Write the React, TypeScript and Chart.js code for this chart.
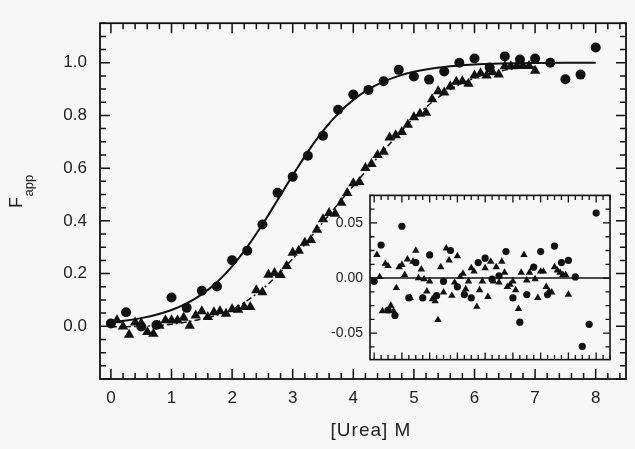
import React, { useEffect, useRef } from 'react';
import { Chart, registerables } from 'chart.js';

Chart.register(...registerables);

// ---------------- data ----------------
const circleX = [0, 0.25, 0.5, 0.75, 1, 1.25, 1.5, 1.75, 2, 2.25, 2.5, 2.75, 3, 3.25, 3.5, 3.75, 4, 4.25, 4.5, 4.75, 5, 5.25, 5.5, 5.75, 6, 6.25, 6.5, 6.75, 7, 7.25, 7.5, 7.75, 8];
const circleF = [0.011, 0.053, -0.001, 0.005, 0.109, 0.07, 0.135, 0.151, 0.251, 0.287, 0.386, 0.507, 0.567, 0.647, 0.723, 0.822, 0.879, 0.897, 0.93, 0.973, 0.948, 0.936, 0.967, 1.0, 1.016, 0.982, 1.024, 1.012, 1.016, 1.0, 0.937, 0.955, 1.058];

const triangleX = [0.1, 0.2, 0.3, 0.4, 0.5, 0.6, 0.7, 0.8, 0.9, 1.0,
  1.1, 1.2, 1.3, 1.4, 1.5, 1.6, 1.7, 1.8, 1.9, 2.0,
  2.1, 2.2, 2.3, 2.4, 2.5, 2.6, 2.7, 2.8, 2.9, 3.0,
  3.1, 3.2, 3.3, 3.4, 3.5, 3.6, 3.7, 3.8, 3.9, 4.0,
  4.1, 4.2, 4.3, 4.4, 4.5, 4.6, 4.7, 4.8, 4.9, 5.0,
  5.1, 5.2, 5.3, 5.4, 5.5, 5.6, 5.7, 5.8, 5.9, 6.0,
  6.1, 6.2, 6.3, 6.4, 6.5, 6.6, 6.7, 6.8, 6.9, 7.0];
const triangleF = [0.023, -0.001, -0.032, 0.014, 0.012, -0.022, -0.028, 0.002, 0.023, 0.023,
  0.023, 0.032, 0.002, 0.041, 0.057, 0.035, 0.053, 0.057, 0.048, 0.065,
  0.063, 0.073, 0.073, 0.137, 0.129, 0.196, 0.202, 0.195, 0.229, 0.279,
  0.287, 0.317, 0.327, 0.366, 0.406, 0.43, 0.427, 0.469, 0.506, 0.543,
  0.547, 0.601, 0.616, 0.65, 0.662, 0.716, 0.725, 0.737, 0.765, 0.793,
  0.806, 0.81, 0.861, 0.892, 0.887, 0.91, 0.928, 0.93, 0.92, 0.952,
  0.96, 0.952, 0.964, 0.955, 0.987, 0.987, 0.988, 0.988, 0.988, 0.97];

const circleFitX = [0, 0.25, 0.5, 0.75, 1, 1.25, 1.5, 1.75, 2, 2.25, 2.5, 2.75, 3, 3.25, 3.5, 3.75, 4, 4.25, 4.5, 4.75, 5, 5.5, 6, 6.5, 7, 7.5, 8];
const circleFitF = [0.016, 0.022, 0.031, 0.044, 0.062, 0.087, 0.121, 0.167, 0.227, 0.301, 0.386, 0.479, 0.573, 0.662, 0.741, 0.807, 0.859, 0.899, 0.928, 0.95, 0.966, 0.984, 0.993, 0.997, 0.999, 1.0, 1.0];

const triangleFitX = [0, 0.5, 1, 1.5, 2, 2.5, 3, 3.5, 4, 4.5, 5, 5.5, 6, 6.5, 7];
const triangleFitF = [-0.002, 0.0, 0.008, 0.028, 0.064, 0.141, 0.256, 0.395, 0.533, 0.666, 0.79, 0.884, 0.942, 0.972, 0.985];

const circleResidual = [-0.003, 0.03, -0.029, -0.034, 0.047, -0.018, 0.014, -0.018, 0.021, -0.016, -0.003, 0.025, -0.008, -0.015, -0.018, 0.014, 0.018, -0.001, 0.002, 0.024, -0.018, -0.04, -0.015, 0.01, 0.024, -0.015, 0.029, 0.014, 0.016, 0.001, -0.062, -0.042, 0.059];
const triangleResidual = [0.021, 0.001, -0.03, 0.013, 0.011, -0.025, -0.03, -0.009, 0.01, 0.012,
  0.003, 0.017, -0.018, 0.015, 0.025, 0.0, 0.008, -0.001, -0.012, -0.003,
  -0.019, -0.021, -0.038, 0.01, -0.013, 0.027, 0.016, -0.016, -0.004, 0.02,
  0.001, 0.004, -0.01, -0.003, 0.009, 0.006, -0.026, -0.011, -0.003, 0.009,
  -0.017, 0.015, -0.003, 0.01, -0.004, 0.015, 0.005, -0.008, -0.006, -0.003,
  -0.011, -0.028, 0.005, 0.021, -0.002, 0.005, 0.009, -0.001, -0.018, 0.006,
  0.006, -0.008, -0.012, -0.013, 0.01, 0.007, 0.005, 0.003, 0.003, -0.015];

const xTickValues = [0, 1, 2, 3, 4, 5, 6, 7, 8];
const yTickValues = [0, 0.2, 0.4, 0.6, 0.8, 1.0];
const insetYTickValues = [-0.05, 0, 0.05];

const xTitle = '[Urea] M';
const yTitleMain = 'F';
const yTitleSub = 'app';

// ---------------- styling ----------------
const FONT = '"Liberation Sans", Arial, Helvetica, sans-serif';
const BG = '#f7f7f7';
const INK = '#111';
const TEXT = '#222';

const pts = (xs: number[], ys: number[]) => xs.map((x, i) => ({ x, y: ys[i] }));

function drawInwardTicks(ctx: CanvasRenderingContext2D, scale: any, area: any, minorStep: number, majorStep: number, majorLen: number, minorLen: number, horizontal: boolean) {
  const start = Math.ceil((scale.min - 1e-9) / minorStep);
  const end = Math.floor((scale.max + 1e-9) / minorStep);
  const ratio = Math.round(majorStep / minorStep);
  for (let i = start; i <= end; i++) {
    const p = scale.getPixelForValue(i * minorStep);
    const len = i % ratio === 0 ? majorLen : minorLen;
    ctx.beginPath();
    if (horizontal) {
      ctx.moveTo(p, area.bottom); ctx.lineTo(p, area.bottom - len);
      ctx.moveTo(p, area.top); ctx.lineTo(p, area.top + len);
    } else {
      ctx.moveTo(area.left, p); ctx.lineTo(area.left + len, p);
      ctx.moveTo(area.right, p); ctx.lineTo(area.right - len, p);
    }
    ctx.stroke();
  }
}

const mainPlugin = {
  id: 'mainFrame',
  beforeDraw(chart: any) {
    const { ctx, width, height } = chart;
    ctx.save();
    ctx.fillStyle = BG;
    ctx.fillRect(0, 0, width, height);
    ctx.restore();
  },
  afterDraw(chart: any) {
    const { ctx, chartArea: a, scales } = chart;
    ctx.save();
    ctx.strokeStyle = INK;
    ctx.lineWidth = 1.5;
    drawInwardTicks(ctx, scales.x, a, 0.2, 1, 10, 6, true);
    drawInwardTicks(ctx, scales.y, a, 0.05, 0.2, 10, 6, false);
    ctx.lineWidth = 1.8;
    ctx.strokeRect(a.left, a.top, a.right - a.left, a.bottom - a.top);

    // axis titles
    ctx.fillStyle = TEXT;
    ctx.font = `19px ${FONT}`;
    (ctx as any).letterSpacing = '1px';
    ctx.textAlign = 'center';
    ctx.textBaseline = 'middle';
    ctx.fillText(xTitle, (a.left + a.right) / 2 + 8, 431);
    (ctx as any).letterSpacing = '0px';

    ctx.translate(22, 208);
    ctx.rotate(-Math.PI / 2);
    ctx.textAlign = 'left';
    ctx.textBaseline = 'alphabetic';
    ctx.font = `18px ${FONT}`;
    ctx.fillText(yTitleMain, 0, 0);
    const w = ctx.measureText(yTitleMain).width;
    ctx.font = `13px ${FONT}`;
    ctx.fillText(yTitleSub, w + 0.5, 11);
    ctx.restore();
  },
};

const insetPlugin = {
  id: 'insetFrame',
  beforeDatasetsDraw(chart: any) {
    const { ctx, chartArea: a, scales } = chart;
    ctx.save();
    ctx.fillStyle = BG;
    ctx.fillRect(a.left, a.top, a.right - a.left, a.bottom - a.top);
    const y0 = scales.y.getPixelForValue(0);
    ctx.strokeStyle = INK;
    ctx.lineWidth = 1.6;
    ctx.beginPath();
    ctx.moveTo(a.left, y0);
    ctx.lineTo(a.right, y0);
    ctx.stroke();
    ctx.restore();
  },
  afterDraw(chart: any) {
    const { ctx, chartArea: a, scales } = chart;
    ctx.save();
    ctx.strokeStyle = INK;
    ctx.lineWidth = 1.3;
    drawInwardTicks(ctx, scales.x, a, 0.25, 1, 7, 4.5, true);
    drawInwardTicks(ctx, scales.y, a, 0.0125, 0.05, 7, 4.5, false);
    ctx.lineWidth = 1.6;
    ctx.strokeRect(a.left, a.top, a.right - a.left, a.bottom - a.top);
    ctx.restore();
  },
};

export default function App() {
  const mainRef = useRef<HTMLCanvasElement>(null);
  const insetRef = useRef<HTMLCanvasElement>(null);

  useEffect(() => {
    const main = new Chart(mainRef.current as HTMLCanvasElement, {
      type: 'scatter',
      data: {
        datasets: [
          {
            label: 'circles', data: pts(circleX, circleF), order: 0,
            pointStyle: 'circle', pointRadius: 5, pointBackgroundColor: INK, pointBorderWidth: 0,
          },
          {
            label: 'triangles', data: pts(triangleX, triangleF), order: 0,
            pointStyle: 'triangle', pointRadius: 6, pointBackgroundColor: INK, pointBorderWidth: 0,
          },
          {
            label: 'circle fit', data: pts(circleFitX, circleFitF), order: 2, showLine: true,
            pointRadius: 0, borderColor: INK, borderWidth: 2, cubicInterpolationMode: 'monotone',
          },
          {
            label: 'triangle fit', data: pts(triangleFitX, triangleFitF), order: 2, showLine: true,
            pointRadius: 0, borderColor: INK, borderWidth: 1.5, borderDash: [6, 3, 2, 3], cubicInterpolationMode: 'monotone',
          },
        ] as any,
      },
      options: {
        animation: false,
        responsive: false,
        devicePixelRatio: 1,
        layout: { padding: { left: 0, top: 7, right: 9, bottom: 0 } },
        plugins: { legend: { display: false }, tooltip: { enabled: false } },
        scales: {
          x: {
            type: 'linear', min: -0.18, max: 8.5,
            grid: { display: false, drawTicks: false }, border: { display: false },
            afterBuildTicks: (s: any) => { s.ticks = xTickValues.map((v) => ({ value: v })); },
            afterFit: (s: any) => { s.height = 70; },
            ticks: { padding: 9, color: TEXT, font: { family: FONT, size: 17 }, autoSkip: false, maxRotation: 0, callback: (v: any) => String(v) },
          },
          y: {
            type: 'linear', min: -0.2, max: 1.15,
            grid: { display: false, drawTicks: false }, border: { display: false },
            afterBuildTicks: (s: any) => { s.ticks = yTickValues.map((v) => ({ value: v })); },
            afterFit: (s: any) => { s.width = 100; },
            ticks: { padding: 13, color: TEXT, font: { family: FONT, size: 17 }, autoSkip: false, callback: (v: any) => Number(v).toFixed(1) },
          },
        },
      } as any,
      plugins: [mainPlugin],
    });

    const inset = new Chart(insetRef.current as HTMLCanvasElement, {
      type: 'scatter',
      data: {
        datasets: [
          {
            label: 'circle residuals', data: pts(circleX, circleResidual),
            pointStyle: 'circle', pointRadius: 3.6, pointBackgroundColor: INK, pointBorderWidth: 0,
          },
          {
            label: 'triangle residuals', data: pts(triangleX, triangleResidual),
            pointStyle: 'triangle', pointRadius: 4.3, pointBackgroundColor: INK, pointBorderWidth: 0,
          },
        ] as any,
      },
      options: {
        animation: false,
        responsive: false,
        devicePixelRatio: 1,
        layout: { padding: { left: 0, top: 9, right: 10, bottom: 12 } },
        plugins: { legend: { display: false }, tooltip: { enabled: false } },
        scales: {
          x: { type: 'linear', min: -0.15, max: 8.5, display: false },
          y: {
            type: 'linear', min: -0.074, max: 0.075,
            grid: { display: false, drawTicks: false }, border: { display: false },
            afterBuildTicks: (s: any) => { s.ticks = insetYTickValues.map((v) => ({ value: v })); },
            afterFit: (s: any) => { s.width = 50; },
            ticks: { padding: 7, color: TEXT, font: { family: FONT, size: 14 }, autoSkip: false, callback: (v: any) => Number(v).toFixed(2) },
          },
        },
      } as any,
      plugins: [insetPlugin],
    });

    return () => { main.destroy(); inset.destroy(); };
  }, []);

  return (
    <div style={{ position: 'absolute', left: 0, top: 0, width: 635, height: 449, background: BG }}>
      <canvas ref={mainRef} width={635} height={449} style={{ position: 'absolute', left: 0, top: 0 }} />
      <canvas ref={insetRef} width={300} height={195} style={{ position: 'absolute', left: 320, top: 180 }} />
    </div>
  );
}
